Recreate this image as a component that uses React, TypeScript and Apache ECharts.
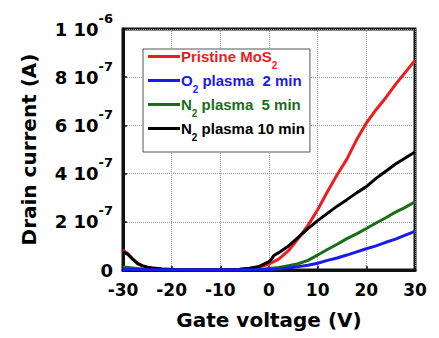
import React, { useEffect, useRef } from "react";
import * as echarts from "echarts";

const voltages = [-30, -29, -28, -27, -26, -25, -24, -22, -20, -15, -10, -6, -4, -2, 0, 0.5, 1, 2, 4, 6, 8, 10, 12, 14, 16, 18, 20, 22, 24, 26, 28, 30];
// currents in units of 1e-7 A
const pristine = [0.83, 0.68, 0.45, 0.25, 0.16, 0.11, 0.08, 0.04, 0.02, 0.01, 0.01, 0.03, 0.06, 0.12, 0.25, 0.3, 0.35, 0.45, 0.8, 1.3, 1.85, 2.5, 3.25, 3.95, 4.6, 5.4, 6.1, 6.65, 7.15, 7.7, 8.2, 8.7];
const o2_2min = [0.02, 0.02, 0.02, 0.02, 0.01, 0.01, 0.01, 0.01, 0.01, 0.01, 0.01, 0.01, 0.01, 0.01, 0.02, 0.02, 0.03, 0.04, 0.08, 0.14, 0.2, 0.28, 0.4, 0.5, 0.62, 0.75, 0.88, 1.0, 1.15, 1.28, 1.45, 1.6];
const n2_5min = [0.12, 0.1, 0.08, 0.06, 0.04, 0.03, 0.02, 0.01, 0.01, 0.005, 0.005, 0.005, 0.01, 0.02, 0.06, 0.07, 0.08, 0.1, 0.18, 0.26, 0.4, 0.62, 0.85, 1.07, 1.3, 1.5, 1.72, 1.95, 2.17, 2.4, 2.6, 2.83];
const n2_10min = [0.75, 0.65, 0.45, 0.27, 0.18, 0.12, 0.08, 0.04, 0.02, 0.01, 0.01, 0.03, 0.07, 0.15, 0.35, 0.45, 0.6, 0.72, 1.0, 1.35, 1.72, 2.05, 2.35, 2.65, 2.92, 3.2, 3.46, 3.8, 4.1, 4.4, 4.65, 4.9];
const UNIT = 1e-7;

const seriesNames = ["Pristine MoS2", "O2 plasma  2 min", "N2 plasma  5 min", "N2 plasma 10 min"];
const seriesColors = ["#ee1c1c", "#1a1aee", "#1a6e1a", "#000000"];
const legendRich: Record<string, string> = {
  "Pristine MoS2": "{m|Pristine MoS}{s|2}",
  "O2 plasma  2 min": "{m|O}{s|2}{m| plasma  2 min}",
  "N2 plasma  5 min": "{m|N}{s|2}{m| plasma  5 min}",
  "N2 plasma 10 min": "{m|N}{s|2}{m| plasma 10 min}",
};

const FONT = "DejaVu Sans";
const LEGEND_FONT = "Liberation Sans";

function toPairs(vals: number[]) {
  return voltages.map((v, i) => [v, vals[i] * UNIT]);
}

export default function App() {
  const ref = useRef<HTMLDivElement>(null);
  useEffect(() => {
    if (!ref.current) return;
    const chart = echarts.init(ref.current, null, { renderer: "svg" });
    const datasets = [pristine, o2_2min, n2_5min, n2_10min];
    chart.setOption({
      animation: false,
      backgroundColor: "#ffffff",
      textStyle: { fontFamily: FONT },
      grid: {
        left: 123,
        right: 24,
        top: 29,
        bottom: 68,
        show: true,
        borderColor: "#111",
        borderWidth: 3,
      },
      legend: {
        orient: "vertical",
        left: 143,
        top: 49,
        padding: [0, 5, 10, 5],
        itemWidth: 32,
        itemHeight: 3,
        itemGap: 3,
        backgroundColor: "#fff",
        borderColor: "#555",
        borderWidth: 1,
        borderRadius: 0,
        data: seriesNames.map((n, i) => ({
          name: n,
          icon: "rect",
          itemStyle: { color: seriesColors[i] },
          textStyle: { color: seriesColors[i] },
        })),
        formatter: (name: string) => legendRich[name] || name,
        textStyle: {
          fontFamily: LEGEND_FONT,
          fontWeight: "bold",
          fontSize: 15,
          padding: [0, 0, 0, -4],
          rich: {
            m: { fontFamily: LEGEND_FONT, fontWeight: "bold", fontSize: 15 },
            s: { fontFamily: LEGEND_FONT, fontWeight: "bold", fontSize: 10, padding: [17, 0, 0, 0] },
          },
        },
      },
      xAxis: {
        type: "value",
        min: -30,
        max: 30,
        interval: 10,
        name: "Gate voltage (V)",
        nameLocation: "middle",
        nameGap: 40,
        nameTextStyle: { fontFamily: FONT, fontWeight: "bold", fontSize: 20, color: "#000" },
        axisLine: { show: true, onZero: false, lineStyle: { color: "#111", width: 3 } },
        axisTick: { show: true, inside: true, length: 4, lineStyle: { color: "#111", width: 1.5 } },
        axisLabel: { fontFamily: FONT, fontWeight: "bold", fontSize: 17, color: "#000", margin: 11 },
        splitLine: { show: true, lineStyle: { color: "#999", type: "dotted", width: 1 } },
      },
      yAxis: {
        type: "value",
        min: 0,
        max: 1e-6,
        interval: 2e-7,
        name: "Drain current (A)",
        nameLocation: "middle",
        nameGap: 84,
        nameTextStyle: { fontFamily: FONT, fontWeight: "bold", fontSize: 20, color: "#000" },
        axisLine: { show: true, onZero: false, lineStyle: { color: "#111", width: 3 } },
        axisTick: { show: true, inside: true, length: 4, lineStyle: { color: "#111", width: 1.5 } },
        axisLabel: {
          fontFamily: FONT,
          fontWeight: "bold",
          fontSize: 18,
          color: "#000",
          margin: 10,
          formatter: (v: number) => {
            const n = Math.round(v / UNIT);
            if (n === 0) return "{b|0}";
            if (n === 10) return "{b|1 10}{s|-6}";
            return `{b|${n} 10}{s|-7}`;
          },
          rich: {
            b: { fontFamily: FONT, fontWeight: "bold", fontSize: 18, color: "#000" },
            s: { fontFamily: FONT, fontWeight: "bold", fontSize: 13, color: "#000", padding: [0, 0, 22, 0] },
          },
        },
        splitLine: { show: true, lineStyle: { color: "#999", type: "dotted", width: 1 } },
      },
      series: datasets.map((d, i) => ({
        name: seriesNames[i],
        type: "line",
        data: toPairs(d),
        symbol: "none",
        showSymbol: false,
        z: i === 1 ? 4 : 2 + i * 0.1,
        lineStyle: { color: seriesColors[i], width: 3 },
        itemStyle: { color: seriesColors[i] },
      })),
    });
    return () => chart.dispose();
  }, []);
  return <div ref={ref} style={{ position: "fixed", left: 0, top: 0, width: 439, height: 338 }} />;
}
